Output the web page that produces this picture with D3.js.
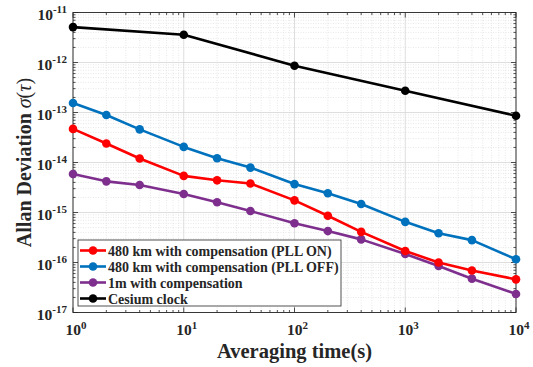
<!DOCTYPE html>
<html>
<head>
<meta charset="utf-8">
<script src="https://cdn.jsdelivr.net/npm/d3@7"></script>
<style>
  body { margin: 0; background: #fff; }
</style>
</head>
<body>
<div id="chart"></div>
<script>
// averaging times
const tauFull = [1, 2, 4, 10, 20, 40, 100, 200, 400, 1000, 2000, 4000, 10000];
const tauCesium = [1, 10, 100, 1000, 10000];

// Allan deviation values
const pllOn = [4.7e-14, 2.4e-14, 1.2e-14, 5.4e-15, 4.4e-15, 3.8e-15, 1.75e-15, 8.6e-16, 4.1e-16, 1.7e-16, 1.0e-16, 6.9e-17, 4.6e-17];
const pllOff = [1.55e-13, 8.9e-14, 4.6e-14, 2.05e-14, 1.22e-14, 7.9e-15, 3.7e-15, 2.42e-15, 1.48e-15, 6.5e-16, 3.85e-16, 2.8e-16, 1.16e-16];
const oneMeter = [5.9e-15, 4.2e-15, 3.55e-15, 2.35e-15, 1.6e-15, 1.07e-15, 6.1e-16, 4.25e-16, 2.9e-16, 1.48e-16, 8.5e-17, 4.75e-17, 2.35e-17];
const cesium = [5.1e-12, 3.6e-12, 8.6e-13, 2.73e-13, 8.6e-14];

const seriesNames = ["480 km with compensation (PLL ON)", "480 km with compensation (PLL OFF)", "1m with compensation", "Cesium clock"];
const seriesColors = ["#ff0000", "#0072bd", "#7e2f8e", "#000000"];

const xTickExps = [0, 1, 2, 3, 4];
const yTickExps = [-17, -16, -15, -14, -13, -12, -11];

const FONT = "'Liberation Serif', 'Times New Roman', serif";

const width = 533, height = 367;
const margin = { left: 73, right: 17, top: 12.5, bottom: 54.5 };
const plotW = width - margin.left - margin.right;
const plotH = height - margin.top - margin.bottom;

const svg = d3.select("#chart").append("svg")
  .attr("width", width)
  .attr("height", height)
  .attr("font-family", FONT);

const x = d3.scaleLog().domain([1, 1e4]).range([margin.left, margin.left + plotW]);
const y = d3.scaleLog().domain([1e-17, 1e-11]).range([margin.top + plotH, margin.top]);

// minor values
const xMinor = [];
for (let e = 0; e < 4; e++) for (let k = 2; k <= 9; k++) xMinor.push(k * Math.pow(10, e));
const yMinor = [];
for (let e = -17; e < -11; e++) for (let k = 2; k <= 9; k++) yMinor.push(k * Math.pow(10, e));

const grid = svg.append("g");
// minor grid (dotted)
grid.selectAll(".xmin").data(xMinor).join("line")
  .attr("x1", d => x(d)).attr("x2", d => x(d))
  .attr("y1", margin.top).attr("y2", margin.top + plotH)
  .attr("stroke", "#d8d8d8").attr("stroke-width", 0.6).attr("stroke-dasharray", "1,1.5");
grid.selectAll(".ymin").data(yMinor).join("line")
  .attr("y1", d => y(d)).attr("y2", d => y(d))
  .attr("x1", margin.left).attr("x2", margin.left + plotW)
  .attr("stroke", "#d8d8d8").attr("stroke-width", 0.6).attr("stroke-dasharray", "1,1.5");
// major grid
grid.selectAll(".xmaj").data(xTickExps).join("line")
  .attr("x1", d => x(Math.pow(10, d))).attr("x2", d => x(Math.pow(10, d)))
  .attr("y1", margin.top).attr("y2", margin.top + plotH)
  .attr("stroke", "#d6d6d6").attr("stroke-width", 0.8);
grid.selectAll(".ymaj").data(yTickExps).join("line")
  .attr("y1", d => y(Math.pow(10, d))).attr("y2", d => y(Math.pow(10, d)))
  .attr("x1", margin.left).attr("x2", margin.left + plotW)
  .attr("stroke", "#d6d6d6").attr("stroke-width", 0.8);

// ticks, inward on all four sides
const ticks = svg.append("g").attr("stroke", "#262626").attr("stroke-width", 0.8);
const bottomY = margin.top + plotH, rightX = margin.left + plotW;
xTickExps.forEach(e => {
  const px = x(Math.pow(10, e));
  ticks.append("line").attr("x1", px).attr("x2", px).attr("y1", bottomY).attr("y2", bottomY - 5);
  ticks.append("line").attr("x1", px).attr("x2", px).attr("y1", margin.top).attr("y2", margin.top + 5);
});
xMinor.forEach(v => {
  const px = x(v);
  ticks.append("line").attr("x1", px).attr("x2", px).attr("y1", bottomY).attr("y2", bottomY - 2.5);
  ticks.append("line").attr("x1", px).attr("x2", px).attr("y1", margin.top).attr("y2", margin.top + 2.5);
});
yTickExps.forEach(e => {
  const py = y(Math.pow(10, e));
  ticks.append("line").attr("y1", py).attr("y2", py).attr("x1", margin.left).attr("x2", margin.left + 5);
  ticks.append("line").attr("y1", py).attr("y2", py).attr("x1", rightX).attr("x2", rightX - 5);
});
yMinor.forEach(v => {
  const py = y(v);
  ticks.append("line").attr("y1", py).attr("y2", py).attr("x1", margin.left).attr("x2", margin.left + 2.5);
  ticks.append("line").attr("y1", py).attr("y2", py).attr("x1", rightX).attr("x2", rightX - 2.5);
});

// box
svg.append("rect")
  .attr("x", margin.left).attr("y", margin.top)
  .attr("width", plotW).attr("height", plotH)
  .attr("fill", "none").attr("stroke", "#262626").attr("stroke-width", 0.9);

// tick labels
xTickExps.forEach(e => {
  const t = svg.append("text")
    .attr("x", x(Math.pow(10, e)) + 3).attr("y", 335)
    .attr("text-anchor", "middle")
    .attr("font-size", 15.5).attr("font-weight", "bold").attr("fill", "#262626");
  t.append("tspan").text("10");
  t.append("tspan").attr("dy", -6.5).attr("font-size", 11).text(e);
});
yTickExps.forEach(e => {
  const t = svg.append("text")
    .attr("x", 67).attr("y", y(Math.pow(10, e)) + 7)
    .attr("text-anchor", "end")
    .attr("font-size", 15.5).attr("font-weight", "bold").attr("fill", "#262626");
  t.append("tspan").text("10");
  t.append("tspan").attr("dy", -7).attr("font-size", 11).text(e);
});

// axis labels
svg.append("text")
  .attr("x", margin.left + plotW / 2).attr("y", 358)
  .attr("text-anchor", "middle")
  .attr("font-size", 20.5).attr("font-weight", "bold").attr("fill", "#262626")
  .text("Averaging time(s)");

const yl = svg.append("text")
  .attr("transform", `translate(31,${margin.top + plotH / 2}) rotate(-90)`)
  .attr("text-anchor", "middle")
  .attr("font-size", 20).attr("fill", "#262626");
yl.append("tspan").attr("font-weight", "bold").text("Allan Deviation ");
yl.append("tspan").attr("font-style", "italic").text("σ");
yl.append("tspan").text("(");
yl.append("tspan").attr("font-style", "italic").text("τ");
yl.append("tspan").text(")");

// series
const allSeries = [
  { tau: tauFull, vals: pllOn },
  { tau: tauFull, vals: pllOff },
  { tau: tauFull, vals: oneMeter },
  { tau: tauCesium, vals: cesium }
];
const line = d3.line().x(d => x(d[0])).y(d => y(d[1]));
const drawOrder = [3, 1, 2, 0];
drawOrder.forEach(i => {
  const s = allSeries[i];
  const pts = s.tau.map((t, j) => [t, s.vals[j]]);
  const g = svg.append("g");
  g.append("path").datum(pts)
    .attr("d", line).attr("fill", "none")
    .attr("stroke", seriesColors[i]).attr("stroke-width", 2.6)
    .attr("stroke-linejoin", "round");
  g.selectAll("circle").data(pts).join("circle")
    .attr("cx", d => x(d[0])).attr("cy", d => y(d[1]))
    .attr("r", 4.3).attr("fill", seriesColors[i]);
});

// legend
const lg = svg.append("g");
lg.append("rect")
  .attr("x", 78).attr("y", 240).attr("width", 263).attr("height", 66)
  .attr("fill", "#fff").attr("stroke", "#262626").attr("stroke-width", 0.8);
seriesNames.forEach((name, i) => {
  const ly = 250.5 + i * 16;
  lg.append("line").attr("x1", 80).attr("x2", 106).attr("y1", ly).attr("y2", ly)
    .attr("stroke", seriesColors[i]).attr("stroke-width", 2.6);
  lg.append("circle").attr("cx", 93).attr("cy", ly).attr("r", 4.3).attr("fill", seriesColors[i]);
  lg.append("text").attr("x", 108).attr("y", ly + 5)
    .attr("font-size", 14).attr("font-weight", "bold").attr("fill", "#262626")
    .text(name);
});
</script>
</body>
</html>
